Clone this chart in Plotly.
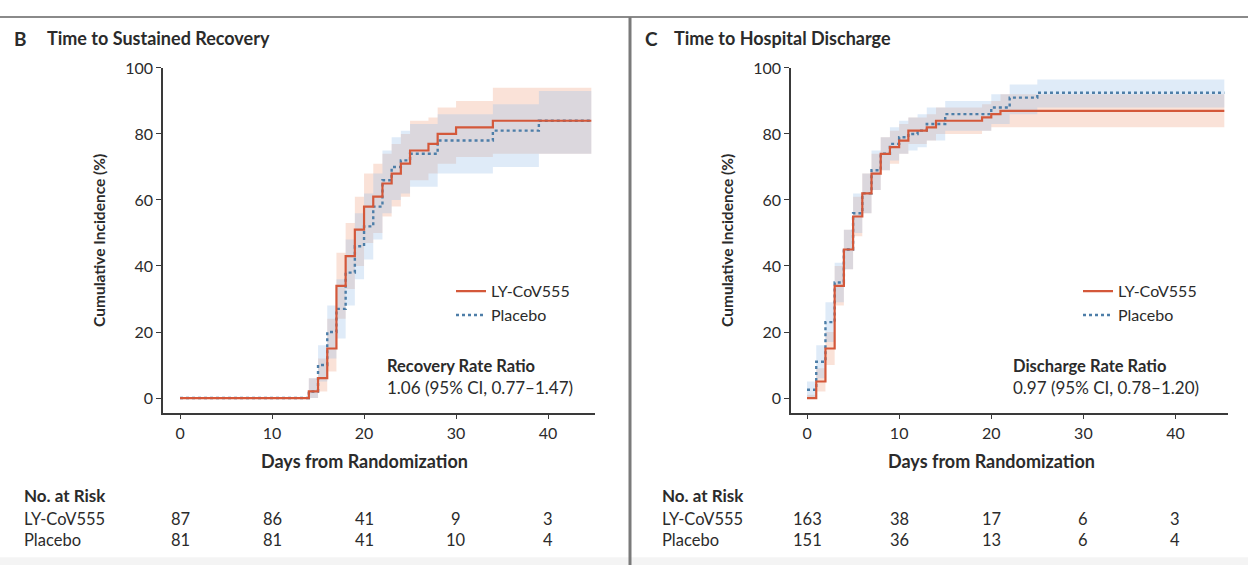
import plotly.graph_objects as go

W, H = 1248, 565

# ---------------- Data: panel B (Time to Sustained Recovery) ----------------
b_ly_days = [0, 14, 15, 16, 17, 18, 19, 20, 21, 22, 23, 24, 25, 27, 28, 30, 34, 44.7]
b_ly_pct = [0, 2, 6, 15, 34, 43, 51, 58, 61, 65, 68, 71, 75, 77, 80, 82, 84, 84]
b_ly_lo = [0, 0, 2, 8, 24, 33, 40, 47, 50, 55, 58, 61, 66, 68, 71, 73, 74, 74]
b_ly_hi = [0, 6, 12, 24, 44, 53, 61, 68, 71, 74, 77, 80, 84, 85, 88, 90, 94, 94]

b_pl_days = [0, 14, 15, 16, 17, 18, 19, 20, 21, 22, 23, 24, 25, 28, 34, 39, 44.7]
b_pl_pct = [0, 2, 10, 20, 27, 38, 46, 52, 58, 66, 70, 72, 74, 78, 81, 84, 84]
b_pl_lo = [0, 0, 5, 12, 18, 28, 36, 42, 48, 56, 60, 62, 64, 68, 70, 74, 74]
b_pl_hi = [0, 6, 16, 28, 36, 48, 56, 62, 68, 75, 79, 81, 83, 86, 89, 93, 93]

# ---------------- Data: panel C (Time to Hospital Discharge) ----------------
c_ly_days = [0, 1, 2, 3, 4, 5, 6, 7, 8, 9, 10, 11, 13, 14, 19, 20, 21, 45.3]
c_ly_pct = [0, 5, 15, 34, 45, 55, 62, 68, 74, 76, 78, 81, 82, 84, 85, 86, 87, 87]
c_ly_lo = [0, 2, 10, 28, 39, 49, 56, 63, 69, 71, 74, 77, 78, 80, 81, 82, 82, 82]
c_ly_hi = [1, 9, 20, 40, 51, 61, 68, 74, 79, 81, 83, 85, 86, 88, 89, 90, 92, 92]

c_pl_days = [0, 1, 2, 3, 4, 5, 6, 7, 8, 9, 10, 11, 12, 13, 15, 20, 22, 25, 45.3]
c_pl_pct = [2.5, 11, 23, 35, 45, 56, 62, 69, 74, 77, 79, 80, 81, 83, 86, 88, 91, 92.5, 92.5]
c_pl_lo = [0, 6, 17, 29, 39, 50, 56, 63, 69, 72, 74, 75, 76, 78, 81, 83, 86, 88, 88]
c_pl_hi = [5, 16, 29, 41, 51, 62, 68, 75, 79, 82, 84, 85, 86, 88, 90, 92, 95, 96.5, 96.5]

# ---------------- Number at risk ----------------
risk_days = [0, 10, 20, 30, 40]
b_risk_ly = [87, 86, 41, 9, 3]
b_risk_pl = [81, 81, 41, 10, 4]
c_risk_ly = [163, 38, 17, 6, 3]
c_risk_pl = [151, 36, 13, 6, 4]

series_names = ["LY-CoV555", "Placebo"]
panel_titles = ["Time to Sustained Recovery", "Time to Hospital Discharge"]
panel_letters = ["B", "C"]
ratio_titles = ["Recovery Rate Ratio", "Discharge Rate Ratio"]
ratio_values = ["1.06 (95% CI, 0.77\u20131.47)", "0.97 (95% CI, 0.78\u20131.20)"]
x_axis_title = "Days from Randomization"
y_axis_title = "Cumulative Incidence (%)"
y_ticks = [0, 20, 40, 60, 80, 100]
x_ticks = [0, 10, 20, 30, 40]

FONT = "Lato, 'Open Sans', sans-serif"
RED = "#d4583a"
BLUE = "#4d7ea8"
RED_BAND = "rgba(240,160,125,0.30)"
BLUE_BAND = "rgba(155,192,232,0.32)"
TXT = "#2b2b2b"
FS = 16.5


def px(x):
    return x / W


def py(y):
    return 1 - y / H


fig = go.Figure()


def add_panel(xa, ya, legend, ly, pl):
    for (days, pct, lo, hi), band in [(ly, RED_BAND), (pl, BLUE_BAND)]:
        fig.add_trace(go.Scatter(x=days, y=lo, mode="lines", line=dict(width=0, shape="hv"),
                                 xaxis=xa, yaxis=ya, showlegend=False, hoverinfo="skip"))
        fig.add_trace(go.Scatter(x=days, y=hi, mode="lines", line=dict(width=0, shape="hv"),
                                 fill="tonexty", fillcolor=band,
                                 xaxis=xa, yaxis=ya, showlegend=False, hoverinfo="skip"))
    for (days, pct, lo, hi), name, col, dash, w in [
        (pl, series_names[1], BLUE, "3px,3px", 2.4),
        (ly, series_names[0], RED, "solid", 2.2),
    ]:
        fig.add_trace(go.Scatter(x=days, y=pct, mode="lines", name=name,
                                 line=dict(color=col, width=w, dash=dash, shape="hv"),
                                 xaxis=xa, yaxis=ya, legend=legend, showlegend=True))


add_panel("x", "y", "legend", (b_ly_days, b_ly_pct, b_ly_lo, b_ly_hi),
          (b_pl_days, b_pl_pct, b_pl_lo, b_pl_hi))
add_panel("x2", "y2", "legend2", (c_ly_days, c_ly_pct, c_ly_lo, c_ly_hi),
          (c_pl_days, c_pl_pct, c_pl_lo, c_pl_hi))

axis_common = dict(showline=True, linecolor="#3a3a3a", linewidth=1.5, ticks="outside",
                   ticklen=5, tickwidth=1.3, tickcolor="#3a3a3a", showgrid=False, zeroline=False,
                   tickfont=dict(family=FONT, size=16, color=TXT))

y_title = dict(text=f"<b>{y_axis_title}</b>", font=dict(family=FONT, size=15.5, color=TXT), standoff=16)

fig.update_layout(
    width=W, height=H, margin=dict(l=0, r=0, t=0, b=0),
    paper_bgcolor="white", plot_bgcolor="white",
    font=dict(family=FONT, color=TXT),
    xaxis=dict(domain=[px(163), px(595)], range=[-1.85, 45.1], tickvals=x_ticks,
               anchor="y", **axis_common),
    yaxis=dict(domain=[py(410), py(59)], range=[-4.46, 100], tickvals=y_ticks,
               anchor="x", title=y_title, **axis_common),
    xaxis2=dict(domain=[px(791), px(1228)], range=[-1.74, 45.7], tickvals=x_ticks,
                anchor="y2", **axis_common),
    yaxis2=dict(domain=[py(410), py(59)], range=[-4.46, 100], tickvals=y_ticks,
                anchor="x2", title=y_title, **axis_common),
    legend=dict(x=px(451), y=py(269), xanchor="left", yanchor="top", bgcolor="rgba(0,0,0,0)",
                font=dict(family=FONT, size=16, color=TXT), traceorder="reversed",
                itemwidth=30, tracegroupgap=0),
    legend2=dict(x=px(1078), y=py(269), xanchor="left", yanchor="top", bgcolor="rgba(0,0,0,0)",
                 font=dict(family=FONT, size=16, color=TXT), traceorder="reversed",
                 itemwidth=30, tracegroupgap=0),
    showlegend=True,
)

ann = []
# Panel titles
for letter, title, lx, tx in zip(panel_letters, panel_titles, [12, 643], [45, 672]):
    ann.append(dict(text=f"<b>{letter}</b>", x=px(lx), y=py(29), xref="paper", yref="paper",
                    xanchor="left", yanchor="middle", showarrow=False,
                    font=dict(family=FONT, size=19, color=TXT)))
    ann.append(dict(text=f"<b>{title}</b>", x=px(tx), y=py(29), xref="paper", yref="paper",
                    xanchor="left", yanchor="middle", showarrow=False,
                    font=dict(family=FONT, size=18, color=TXT)))
# X-axis titles (centred on day 20, as in the original)
for xr in ["x", "x2"]:
    ann.append(dict(text=f"<b>{x_axis_title}</b>", x=20, y=py(459), xref=xr, yref="paper",
                    xanchor="center", yanchor="middle", showarrow=False,
                    font=dict(family=FONT, size=18, color=TXT)))
# Rate ratio text
for rt, rv, rx in zip(ratio_titles, ratio_values, [385, 1011]):
    ann.append(dict(text=f"<b>{rt}</b>", x=px(rx), y=py(362), xref="paper", yref="paper",
                    xanchor="left", yanchor="middle", showarrow=False,
                    font=dict(family=FONT, size=FS, color=TXT)))
    ann.append(dict(text=rv, x=px(rx), y=py(384), xref="paper", yref="paper",
                    xanchor="left", yanchor="middle", showarrow=False,
                    font=dict(family=FONT, size=FS + 0.5, color=TXT)))
# Number at risk table
for xr, lx, rl, rp in [("x", 22, b_risk_ly, b_risk_pl), ("x2", 660, c_risk_ly, c_risk_pl)]:
    ann.append(dict(text="<b>No. at Risk</b>", x=px(lx), y=py(494), xref="paper", yref="paper",
                    xanchor="left", yanchor="middle", showarrow=False,
                    font=dict(family=FONT, size=FS + 0.5, color=TXT)))
    for name, vals, yy in [(series_names[0], rl, 518), (series_names[1], rp, 540)]:
        ann.append(dict(text=name, x=px(lx), y=py(yy), xref="paper", yref="paper",
                        xanchor="left", yanchor="middle", showarrow=False,
                        font=dict(family=FONT, size=FS, color=TXT)))
        for d, v in zip(risk_days, vals):
            ann.append(dict(text=str(v), x=d, y=py(yy), xref=xr, yref="paper",
                            xanchor="center", yanchor="middle", showarrow=False,
                            font=dict(family=FONT, size=FS, color=TXT)))
fig.update_layout(annotations=ann)

# Frame lines
fig.add_shape(type="rect", xref="paper", yref="paper", x0=0, x1=1, y0=0, y1=py(557),
              fillcolor="#f4f4f4", line=dict(width=0), layer="below")
fig.add_shape(type="line", xref="paper", yref="paper", x0=0, x1=1, y0=py(7), y1=py(7),
              line=dict(color="#8a8a8a", width=2))
fig.add_shape(type="line", xref="paper", yref="paper", x0=px(630), x1=px(630), y0=py(7), y1=0,
              line=dict(color="#7a7a7a", width=3))

fig.write_html("out.html", config={"displayModeBar": False},
               post_script="document.body.style.margin='0';document.body.style.overflow='hidden';")
